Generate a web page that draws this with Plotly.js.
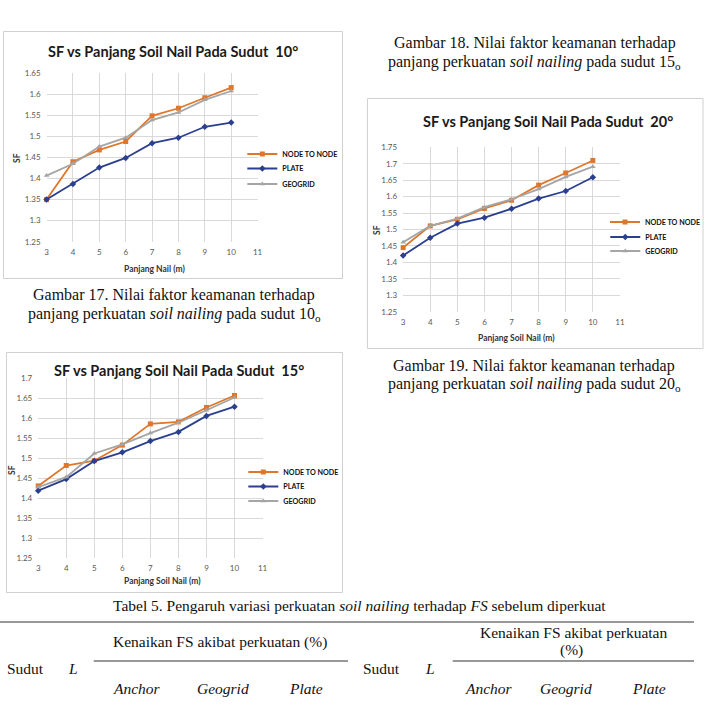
<!DOCTYPE html>
<html>
<head>
<meta charset="utf-8">
<script src="https://cdn.plot.ly/plotly-3.0.1.min.js"></script>
<style>html,body{margin:0;padding:0;background:#fff;}#chart{width:706px;height:708px;}</style>
</head>
<body>
<div id="chart"></div>
<script>
// ---------- DATA ----------
const panjang = [3, 4, 5, 6, 7, 8, 9, 10];
const seriesNames = ["NODE TO NODE", "PLATE", "GEOGRID"];

// Sudut 10°
const node10  = [1.350, 1.440, 1.468, 1.488, 1.549, 1.567, 1.592, 1.616];
const plate10 = [1.350, 1.387, 1.426, 1.449, 1.484, 1.497, 1.523, 1.533];
const geo10   = [1.407, 1.435, 1.476, 1.497, 1.539, 1.557, 1.587, 1.608];

// Sudut 15°
const node15  = [1.431, 1.482, 1.494, 1.533, 1.586, 1.591, 1.627, 1.657];
const plate15 = [1.419, 1.448, 1.493, 1.515, 1.543, 1.566, 1.606, 1.629];
const geo15   = [1.428, 1.453, 1.512, 1.535, 1.563, 1.589, 1.620, 1.652];

// Sudut 20°
const node20  = [1.445, 1.511, 1.531, 1.564, 1.589, 1.635, 1.672, 1.710];
const plate20 = [1.421, 1.475, 1.518, 1.536, 1.563, 1.594, 1.617, 1.659];
const geo20   = [1.461, 1.511, 1.533, 1.568, 1.592, 1.623, 1.660, 1.691];

const chartTitles = ["SF vs Panjang Soil Nail Pada Sudut  10°",
                     "SF vs Panjang Soil Nail Pada Sudut  20°",
                     "SF vs Panjang Soil Nail Pada Sudut  15°"];
const xTitles = ["Panjang Nail (m)", "Panjang Soil Nail (m)", "Panjang Soil Nail (m)"];

// ---------- STYLE / LAYOUT HELPERS ----------
const W = 706, H = 708;
const px = v => v / W;
const py = v => 1 - v / H;
const COL = {node: "#E0762A", plate: "#2B3F8F", geo: "#A5A5A5"};
const chartFont = "Lato, 'Open Sans', sans-serif";
const serif = "'Liberation Serif', 'Times New Roman', serif";

function mk(xv, yv, name, col, sym, ax, lg, size) {
  return {
    x: xv, y: yv, name: name, type: "scatter", mode: "lines+markers",
    xaxis: "x" + ax, yaxis: "y" + ax, legend: lg, cliponaxis: false,
    line: {color: col, width: 1.8},
    marker: {color: col, symbol: sym, size: size}
  };
}
const data = [
  mk(panjang, node10,  seriesNames[0], COL.node,  "square",      "",  "legend",  5),
  mk(panjang, plate10, seriesNames[1], COL.plate, "diamond",     "",  "legend2", 5),
  mk(panjang, geo10,   seriesNames[2], COL.geo,   "triangle-up", "",  "legend3", 5),
  mk(panjang, node20,  seriesNames[0], COL.node,  "square",      "2", "legend4", 5),
  mk(panjang, plate20, seriesNames[1], COL.plate, "diamond",     "2", "legend5", 5),
  mk(panjang, geo20,   seriesNames[2], COL.geo,   "triangle-up", "2", "legend6", 5),
  mk(panjang, node15,  seriesNames[0], COL.node,  "square",      "3", "legend7", 5),
  mk(panjang, plate15, seriesNames[1], COL.plate, "diamond",     "3", "legend8", 5),
  mk(panjang, geo15,   seriesNames[2], COL.geo,   "triangle-up", "3", "legend9", 5)
];

function xax(l, r, anchor) {
  return {domain: [px(l), px(r)], anchor: anchor, range: [3, 11], dtick: 1, tick0: 3,
    showgrid: true, gridcolor: "#D9D9D9", gridwidth: 1, zeroline: false, showline: false,
    ticks: "", ticklabelstandoff: 4, tickfont: {family: chartFont, size: 8, color: "#595959"},
    fixedrange: true};
}
function yax(t, b, top, anchor) {
  return {domain: [py(b), py(t)], anchor: anchor, range: [1.25, top], dtick: 0.05, tick0: 1.25,
    showgrid: true, gridcolor: "#D9D9D9", gridwidth: 1, zeroline: false, showline: false,
    ticks: "", ticklabelstandoff: 5, tickfont: {family: chartFont, size: 8, color: "#595959"},
    fixedrange: true};
}
function leg(left, midY) {
  return {x: px(left), xanchor: "left", y: py(midY), yanchor: "middle",
    bgcolor: "rgba(0,0,0,0)", borderwidth: 0,
    font: {family: chartFont, size: 7.2, color: "#111", weight: 700}};
}

const ann = [];
function txt(x, y, text, opts) {
  ann.push(Object.assign({xref: "paper", yref: "paper", x: px(x), y: py(y), text: text,
    showarrow: false, xanchor: "center", yanchor: "middle"}, opts || {}));
}
const titleFont = {family: chartFont, size: 14.5, color: "#1a1a1a", weight: 700};
const axTitleFont = {family: chartFont, size: 8.5, color: "#333", weight: 700};

// chart titles
txt(173, 52, chartTitles[0], {font: titleFont});
txt(550, 121, chartTitles[1], {font: titleFont});
txt(180, 370, chartTitles[2], {font: titleFont});
// axis titles
txt(155, 269, xTitles[0], {font: axTitleFont});
txt(518, 338, xTitles[1], {font: axTitleFont});
txt(163, 581, xTitles[2], {font: axTitleFont});
txt(17, 158, "SF", {font: axTitleFont, textangle: -90});
txt(378, 230, "SF", {font: axTitleFont, textangle: -90});
txt(12, 470, "SF", {font: axTitleFont, textangle: -90});

// captions
const capFont = {family: serif, size: 16, color: "#111"};
txt(537, 43, "Gambar 18. Nilai faktor keamanan terhadap", {font: capFont});
txt(536, 62, "panjang perkuatan <i>soil nailing</i> pada sudut 15<sub>o</sub>", {font: capFont});
txt(174, 295, "Gambar 17. Nilai faktor keamanan terhadap", {font: capFont});
txt(175, 315, "panjang perkuatan <i>soil nailing</i> pada sudut 10<sub>o</sub>", {font: capFont});
txt(536, 366, "Gambar 19. Nilai faktor keamanan terhadap", {font: capFont});
txt(536, 385, "panjang perkuatan <i>soil nailing</i> pada sudut 20<sub>o</sub>", {font: capFont});

// table header
const tabFont = {family: serif, size: 15.5, color: "#111"};
txt(361, 605, "Tabel 5. Pengaruh variasi perkuatan <i>soil nailing</i> terhadap <i>FS</i> sebelum diperkuat", {font: tabFont});
txt(221, 642, "Kenaikan FS akibat perkuatan (%)", {font: tabFont});
txt(26, 668, "Sudut", {font: tabFont});
txt(73, 668, "<i>L</i>", {font: tabFont});
txt(137, 688, "<i>Anchor</i>", {font: tabFont});
txt(224, 688, "<i>Geogrid</i>", {font: tabFont});
txt(307, 688, "<i>Plate</i>", {font: tabFont});
txt(383, 668, "Sudut", {font: tabFont});
txt(431, 668, "<i>L</i>", {font: tabFont});
txt(575, 632, "Kenaikan FS akibat perkuatan", {font: tabFont});
txt(573, 650, "(%)", {font: tabFont});
txt(490, 688, "<i>Anchor</i>", {font: tabFont});
txt(568, 688, "<i>Geogrid</i>", {font: tabFont});
txt(651, 688, "<i>Plate</i>", {font: tabFont});

const shapes = [];
function rect(l, t, r, b) {
  shapes.push({type: "rect", xref: "paper", yref: "paper", x0: px(l), x1: px(r), y0: py(b), y1: py(t),
    line: {color: "#D0D0D0", width: 1}, layer: "below"});
}
function hline(l, r, y, w) {
  shapes.push({type: "line", xref: "paper", yref: "paper", x0: px(l), x1: px(r), y0: py(y), y1: py(y),
    line: {color: "#333", width: w}});
}
rect(3.5, 31.5, 343.5, 278.5);
rect(368.5, 98.5, 705, 348.5);
rect(6.5, 352.5, 343.5, 592.5);
hline(0, 696, 622, 1.2);
hline(94, 349, 661, 1.2);
hline(454, 696, 661, 1.2);

const layout = {
  width: W, height: H, margin: {l: 0, r: 0, t: 0, b: 0},
  paper_bgcolor: "#fff", plot_bgcolor: "rgba(0,0,0,0)",
  showlegend: true,
  xaxis: xax(46.7, 258.3, "y"),
  yaxis: yax(73.3, 241.7, 1.65, "x"),
  xaxis2: xax(404.3, 621.7, "y2"),
  yaxis2: yax(147.3, 311.7, 1.75, "x2"),
  xaxis3: xax(38.3, 263.3, "y3"),
  yaxis3: yax(378.3, 558.3, 1.7, "x3"),
  legend:  leg(243, 154),
  legend2: leg(243, 168.5),
  legend3: leg(243, 184),
  legend4: leg(607, 222),
  legend5: leg(607, 237),
  legend6: leg(607, 251),
  legend7: leg(244, 472),
  legend8: leg(244, 486.5),
  legend9: leg(244, 501),
  annotations: ann,
  shapes: shapes
};

Plotly.newPlot("chart", data, layout, {staticPlot: true, displayModeBar: false});
</script>
</body>
</html>
